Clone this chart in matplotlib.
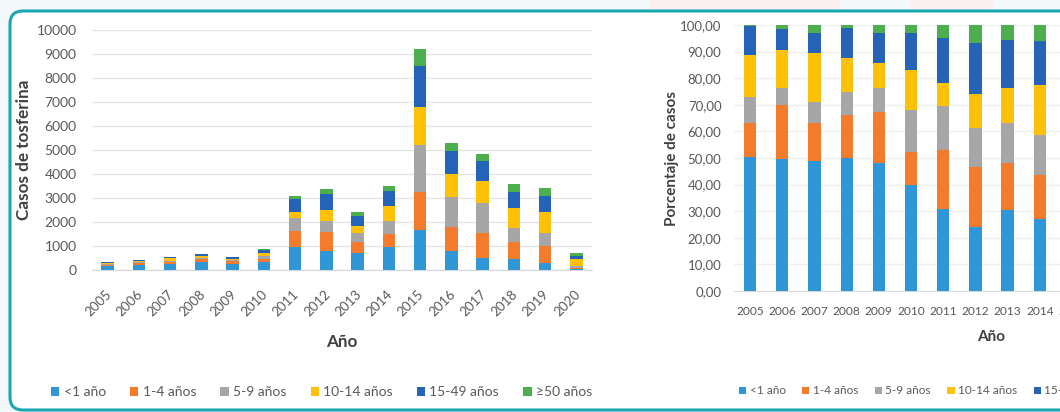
import matplotlib
matplotlib.use("Agg")
import matplotlib.pyplot as plt
from matplotlib.patches import FancyBboxPatch, Rectangle
from matplotlib.transforms import ScaledTranslation
from matplotlib.ticker import FuncFormatter

plt.rcParams['font.family'] = ['Lato', 'DejaVu Sans']

years = ['2005', '2006', '2007', '2008', '2009', '2010', '2011', '2012',
         '2013', '2014', '2015', '2016', '2017', '2018', '2019', '2020']
groups = ['<1 año', '1-4 años', '5-9 años', '10-14 años', '15-49 años', '≥50 años']
colors = ['#2f97d6', '#f47a2c', '#a6a6a6', '#ffc107', '#2563b8', '#4cae4c']

# Casos de tosferina por grupo de edad
cases_lt1 = [175, 209, 264, 336, 261, 342, 952, 800, 720, 940, 1670, 790, 520, 440, 280, 50]
cases_1_4 = [45, 84, 77, 107, 103, 108, 688, 780, 450, 560, 1600, 1010, 1040, 740, 740, 50]
cases_5_9 = [35, 28, 44, 59, 49, 135, 515, 480, 360, 560, 1920, 1250, 1250, 560, 540, 80]
cases_10_14 = [55, 59, 98, 84, 49, 130, 273, 430, 300, 620, 1600, 930, 900, 860, 850, 280]
cases_15_49 = [38, 33, 42, 75, 62, 120, 518, 670, 430, 610, 1690, 970, 850, 670, 690, 130]
cases_50 = [2, 7, 16, 9, 16, 25, 155, 220, 140, 210, 720, 360, 270, 300, 330, 110]

# Porcentaje de casos por grupo de edad
pct_lt1 = [50.4, 49.8, 48.8, 50.1, 48.3, 39.8, 30.7, 24.1, 30.4, 26.9, 18.2, 14.9, 10.8, 12.3, 8.2, 7.1]
pct_1_4 = [12.6, 20.1, 14.2, 16.0, 19.1, 12.5, 22.2, 22.6, 17.9, 16.6, 17.4, 19.0, 21.5, 20.7, 21.6, 7.1]
pct_5_9 = [10.0, 6.6, 8.1, 8.8, 9.1, 15.7, 16.6, 14.7, 14.9, 15.3, 20.9, 23.6, 25.9, 15.7, 15.7, 11.4]
pct_10_14 = [15.7, 14.1, 18.2, 12.6, 9.1, 15.1, 8.8, 12.5, 13.3, 18.6, 17.4, 17.5, 18.6, 24.1, 24.8, 40.0]
pct_15_49 = [10.9, 7.8, 7.8, 11.2, 11.5, 14.0, 16.7, 19.5, 17.9, 16.7, 18.4, 18.3, 17.6, 18.8, 20.1, 18.6]
pct_50 = [0.4, 1.6, 2.9, 1.3, 2.9, 2.9, 5.0, 6.6, 5.6, 5.9, 7.8, 6.8, 5.6, 8.4, 9.6, 15.7]

case_series = [cases_lt1, cases_1_4, cases_5_9, cases_10_14, cases_15_49, cases_50]
pct_series = [pct_lt1, pct_1_4, pct_5_9, pct_10_14, pct_15_49, pct_50]

W, H, DPI = 1060, 412, 100
fig = plt.figure(figsize=(W / DPI, H / DPI), dpi=DPI)
fig.patch.set_facecolor('#f3f8fb')

# soft decorative tints behind the card
for x0, x1 in [(650, 840), (910, 993)]:
    fig.patches.append(Rectangle((x0 / DPI, (H - 12) / DPI), (x1 - x0) / DPI, 12 / DPI,
                                 transform=fig.dpi_scale_trans, facecolor='#fcefef',
                                 edgecolor='none', zorder=-3))

# white card with teal outline
card = FancyBboxPatch((10 / DPI, 2 / DPI), 1100 / DPI, (H - 13) / DPI,
                      boxstyle='round,pad=0,rounding_size=0.13',
                      transform=fig.dpi_scale_trans, facecolor='white',
                      edgecolor='#19a7b2', linewidth=2.2, zorder=-2)
fig.patches.append(card)

tick_color = '#595959'
label_color = '#404040'


def px_axes(x0, x1, ytop, ybot):
    return fig.add_axes([x0 / W, 1 - ybot / H, (x1 - x0) / W, (ybot - ytop) / H])


def style(ax, grid_color):
    for s in ['left', 'right', 'top']:
        ax.spines[s].set_visible(False)
    ax.spines['bottom'].set_color('#d9d9d9')
    ax.set_facecolor('none')
    ax.yaxis.grid(True, color=grid_color, linewidth=1.0)
    ax.set_axisbelow(True)
    ax.tick_params(length=0, colors=tick_color)


x = list(range(len(years)))

# ---- Casos absolutos ----
ax1 = px_axes(92, 592, 30, 270)
bottom = [0] * len(years)
for name, vals, c in zip(groups, case_series, colors):
    ax1.bar(x, vals, width=0.4, bottom=bottom, color=c, label=name, zorder=3)
    bottom = [b + v for b, v in zip(bottom, vals)]
style(ax1, '#e4e4e4')
ax1.set_xlim(-0.5, len(years) - 0.5)
ax1.set_ylim(0, 10000)
ax1.set_yticks(range(0, 10001, 1000))
ax1.tick_params(axis='y', labelsize=10, pad=11)
ax1.set_xticks(x)
ax1.set_xticklabels(years, rotation=45, ha='right', va='top', fontsize=9.6)
ax1.tick_params(axis='x', pad=13)
for lbl in ax1.get_xticklabels():
    lbl.set_transform(lbl.get_transform() + ScaledTranslation(6 / DPI, 0, fig.dpi_scale_trans))
ax1.set_ylabel('Casos de tosferina', fontsize=12.3, fontweight='bold', color=label_color, va='center')
ax1.yaxis.set_label_coords((24 - 92) / 500, 0.5)
ax1.set_xlabel('Año', fontsize=12.3, fontweight='bold', color=label_color, va='center')
ax1.xaxis.set_label_coords(0.5, (270 - 342) / 240)
leg1 = ax1.legend(loc='center left', bbox_to_anchor=(51 / W, 1 - 392 / H),
                  bbox_transform=fig.transFigure, ncol=6, frameon=False,
                  fontsize=10, handlelength=0.6, handleheight=0.6,
                  handletextpad=0.3, columnspacing=1.75, borderpad=0, borderaxespad=0)
for t in leg1.get_texts():
    t.set_color(tick_color)

# ---- Porcentajes ----
ax2 = px_axes(734, 1249, 25, 291)
bottom = [0] * len(years)
for name, vals, c in zip(groups, pct_series, colors):
    ax2.bar(x, vals, width=0.38, bottom=bottom, color=c, label=name, zorder=3)
    bottom = [b + v for b, v in zip(bottom, vals)]
style(ax2, '#eeeeee')
ax2.set_xlim(-0.5, len(years) - 0.5)
ax2.set_ylim(0, 100)
ax2.set_yticks(range(0, 101, 10))
ax2.yaxis.set_major_formatter(FuncFormatter(lambda v, p: f'{v:.2f}'.replace('.', ',')))
ax2.tick_params(axis='y', labelsize=9.5, pad=9)
ax2.set_xticks(x)
ax2.set_xticklabels(years, fontsize=8.6)
ax2.tick_params(axis='x', pad=11)
ax2.set_ylabel('Porcentaje de casos', fontsize=11, fontweight='bold', color=label_color, va='center')
ax2.yaxis.set_label_coords((672 - 734) / 515, 0.5)
ax2.set_xlabel('Año', fontsize=11, fontweight='bold', color=label_color, va='center')
ax2.xaxis.set_label_coords(0.5, (291 - 337) / 266)
leg2 = ax2.legend(loc='center left', bbox_to_anchor=(739 / W, 1 - 391 / H),
                  bbox_transform=fig.transFigure, ncol=6, frameon=False,
                  fontsize=8.5, handlelength=0.6, handleheight=0.6,
                  handletextpad=0.3, columnspacing=1.4, borderpad=0, borderaxespad=0)
for t in leg2.get_texts():
    t.set_color(tick_color)

fig.savefig('out.png', dpi=DPI, facecolor=fig.get_facecolor())
